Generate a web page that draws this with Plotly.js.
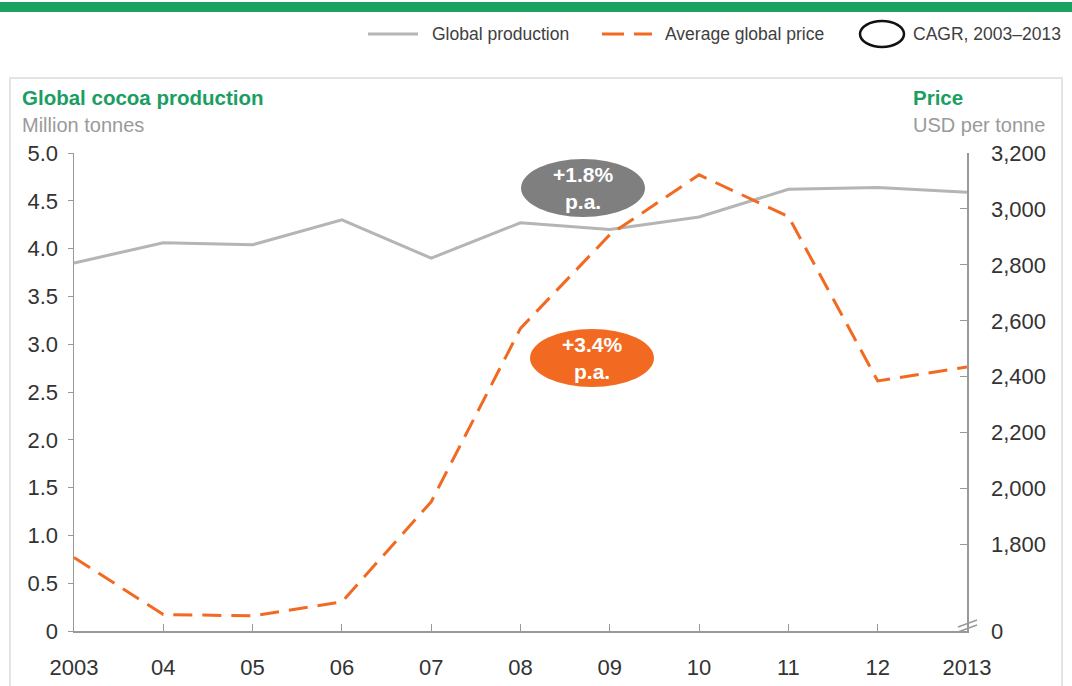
<!DOCTYPE html>
<html>
<head>
<meta charset="utf-8">
<script src="https://cdn.plot.ly/plotly-3.0.1.min.js"></script>
<style>
  html, body { margin: 0; padding: 0; background: #ffffff; }
  #chart { width: 1072px; height: 686px; }
</style>
</head>
<body>
<div id="chart"></div>
<script>
// ---- Data ----
const years = [2003, 2004, 2005, 2006, 2007, 2008, 2009, 2010, 2011, 2012, 2013];
const yearLabels = ["2003", "04", "05", "06", "07", "08", "09", "10", "11", "12", "2013"];
const production = [3.85, 4.06, 4.04, 4.30, 3.90, 4.27, 4.20, 4.33, 4.62, 4.64, 4.59]; // million tonnes
const price = [1754, 1550, 1545, 1595, 1953, 2573, 2908, 3122, 2973, 2385, 2435]; // USD per tonne
const prodTicks = [0, 0.5, 1, 1.5, 2, 2.5, 3, 3.5, 4, 4.5, 5];
const prodTickText = ["0", "0.5", "1.0", "1.5", "2.0", "2.5", "3.0", "3.5", "4.0", "4.5", "5.0"];
const priceAxisBottom = 1491; // broken axis: bottom tick labelled 0
const priceTicks = [priceAxisBottom, 1800, 2000, 2200, 2400, 2600, 2800, 3000, 3200];
const priceTickText = ["0", "1,800", "2,000", "2,200", "2,400", "2,600", "2,800", "3,000", "3,200"];
const cagrProduction = "+1.8%<br>p.a.";
const cagrPrice = "+3.4%<br>p.a.";

// ---- Layout helpers (pixel -> paper) ----
const W = 1072, H = 686;
const L = 74, R = 967, T = 153, B = 631;
const px = p => (p - L) / (R - L);
const py = p => (B - p) / (B - T);

const GREEN = "#1a9e62";
const GREY_LINE = "#b5b5b5";
const ORANGE = "#f26a21";
const FONT = "Liberation Sans, Arial, sans-serif";

const traces = [
  {
    x: years, y: production, type: "scatter", mode: "lines", name: "Global production",
    line: { color: GREY_LINE, width: 3 }, yaxis: "y", showlegend: false, hoverinfo: "x+y"
  },
  {
    x: years, y: price, type: "scatter", mode: "lines", name: "Average global price",
    line: { color: ORANGE, width: 3, dash: "19px,10px" }, yaxis: "y2", showlegend: false, hoverinfo: "x+y"
  }
];

const shapes = [
  // top green bar
  { type: "rect", xref: "paper", yref: "paper", x0: px(0), x1: px(W), y0: py(2), y1: py(12),
    fillcolor: "#1ba160", line: { width: 0 }, layer: "below" },
  // light frame
  { type: "rect", xref: "paper", yref: "paper", x0: px(10), x1: px(1062), y0: py(78), y1: py(700),
    fillcolor: "rgba(0,0,0,0)", line: { color: "#e4e4e4", width: 2 }, layer: "below" },
  // legend: production line
  { type: "line", xref: "paper", yref: "paper", x0: px(368), x1: px(418), y0: py(34), y1: py(34),
    line: { color: GREY_LINE, width: 3 } },
  // legend: price dashes
  { type: "line", xref: "paper", yref: "paper", x0: px(602), x1: px(624), y0: py(34), y1: py(34),
    line: { color: ORANGE, width: 3 } },
  { type: "line", xref: "paper", yref: "paper", x0: px(634), x1: px(652), y0: py(34), y1: py(34),
    line: { color: ORANGE, width: 3 } },
  // legend: CAGR ellipse
  { type: "circle", xref: "paper", yref: "paper", x0: px(860), x1: px(904), y0: py(21), y1: py(47),
    line: { color: "#111111", width: 2.5 } },
  // CAGR ellipses on the chart
  { type: "circle", xref: "paper", yref: "paper", x0: px(521), x1: px(645), y0: py(159), y1: py(217),
    fillcolor: "#7f7f7f", line: { width: 0 } },
  { type: "circle", xref: "paper", yref: "paper", x0: px(530), x1: px(654), y0: py(329), y1: py(387),
    fillcolor: ORANGE, line: { width: 0 } },
  // axis break marks on right axis
  { type: "line", xref: "paper", yref: "paper", x0: px(958), x1: px(977), y0: py(627), y1: py(620),
    line: { color: "#999999", width: 1.5 } },
  { type: "line", xref: "paper", yref: "paper", x0: px(958), x1: px(977), y0: py(632), y1: py(625),
    line: { color: "#999999", width: 1.5 } }
];

const ann = (x, y, text, opts) => Object.assign({
  xref: "paper", yref: "paper", x: px(x), y: py(y), text: text, showarrow: false,
  xanchor: "left", yanchor: "middle", font: { family: FONT, size: 18, color: "#404040" }
}, opts || {});

const annotations = [
  ann(430, 34, "Global production", { font: { family: FONT, size: 17.5, color: "#404040" } }),
  ann(663, 34, "Average global price", { font: { family: FONT, size: 17.5, color: "#404040" } }),
  ann(911, 34, "CAGR, 2003–2013", { font: { family: FONT, size: 17.5, color: "#404040" } }),
  ann(20, 98, "<b>Global cocoa production</b>", { font: { family: FONT, size: 20.5, color: GREEN } }),
  ann(20, 125, "Million tonnes", { font: { family: FONT, size: 20, color: "#9a9a9a" } }),
  ann(911, 98, "<b>Price</b>", { font: { family: FONT, size: 20.5, color: GREEN } }),
  ann(911, 125, "USD per tonne", { font: { family: FONT, size: 20, color: "#9a9a9a" } }),
  ann(583, 188, "<b>" + cagrProduction + "</b>", { xanchor: "center", align: "center",
    font: { family: FONT, size: 21, color: "#ffffff" } }),
  ann(592, 358, "<b>" + cagrPrice + "</b>", { xanchor: "center", align: "center",
    font: { family: FONT, size: 21, color: "#ffffff" } })
];

const layout = {
  width: W, height: H,
  margin: { l: L, r: W - R, t: T, b: H - B, pad: 0 },
  paper_bgcolor: "#ffffff", plot_bgcolor: "#ffffff",
  font: { family: FONT, color: "#333333" },
  showlegend: false,
  xaxis: {
    range: [2003, 2013], tickvals: years, ticktext: yearLabels,
    ticks: "inside", ticklen: 7, tickwidth: 1, tickcolor: "#999999",
    showline: true, linecolor: "#999999", linewidth: 1.5,
    showgrid: false, zeroline: false, fixedrange: true,
    tickfont: { family: FONT, size: 22, color: "#333333" }, ticklabelstandoff: 16
  },
  yaxis: {
    range: [0, 5], tickvals: prodTicks, ticktext: prodTickText,
    ticks: "outside", ticklen: 5, tickwidth: 1, tickcolor: "#999999",
    showline: true, linecolor: "#999999", linewidth: 1.5,
    showgrid: false, zeroline: false, fixedrange: true,
    tickfont: { family: FONT, size: 22, color: "#333333" }, ticklabelstandoff: 5
  },
  yaxis2: {
    overlaying: "y", side: "right",
    range: [priceAxisBottom, 3200], tickvals: priceTicks, ticktext: priceTickText,
    ticks: "inside", ticklen: 7, tickwidth: 1, tickcolor: "#999999",
    showline: true, linecolor: "#999999", linewidth: 1.5,
    showgrid: false, zeroline: false, fixedrange: true,
    tickfont: { family: FONT, size: 22, color: "#333333" }, ticklabelstandoff: 18
  },
  shapes: shapes,
  annotations: annotations
};

Plotly.newPlot("chart", traces, layout, { displayModeBar: false, staticPlot: true });
</script>
</body>
</html>
